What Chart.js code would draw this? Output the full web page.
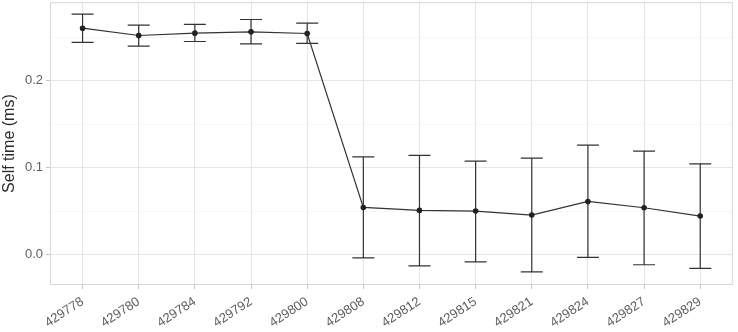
<!DOCTYPE html>
<html>
<head>
<meta charset="utf-8">
<script src="https://cdn.jsdelivr.net/npm/chart.js@4"></script>
<style>
  html, body { margin: 0; padding: 0; background: #fff; overflow: hidden; }
  #wrap { width: 738px; height: 335px; position: relative; top: -3px; }
</style>
</head>
<body>
<div id="wrap"><canvas id="selfTimeChart"></canvas></div>
<script>
const builds = ['429778', '429780', '429784', '429792', '429800', '429808',
                '429812', '429815', '429821', '429824', '429827', '429829'];
const selfTime = [0.2603, 0.2519, 0.2546, 0.2561, 0.2542, 0.0542,
                  0.0508, 0.0500, 0.0454, 0.0611, 0.0538, 0.0443];
const lowerBound = [0.2439, 0.2397, 0.2450, 0.2423, 0.2428, -0.0037,
                    -0.0129, -0.0083, -0.0198, -0.0032, -0.0117, -0.0159];
const upperBound = [0.2764, 0.2638, 0.2646, 0.2703, 0.2661, 0.1124,
                    0.1140, 0.1075, 0.1109, 0.1259, 0.1190, 0.1044];
const yTicks = [0, 0.05, 0.1, 0.15, 0.2, 0.25];

const isMajor = v => Math.abs(v * 10 - Math.round(v * 10)) < 1e-6;
const fontFamily = 'Liberation Sans, Arial, sans-serif';

// error bars + panel border, drawn from the chart scales
const errorBars = {
    id: 'errorBars',
    beforeDatasetsDraw(chart) {
        const { ctx, scales: { x, y } } = chart;
        ctx.save();
        ctx.strokeStyle = '#333';
        ctx.lineWidth = 1.2;
        selfTime.forEach((_, i) => {
            const px = x.getPixelForValue(i);
            const top = y.getPixelForValue(upperBound[i]);
            const bot = y.getPixelForValue(lowerBound[i]);
            ctx.beginPath();
            ctx.moveTo(px, top); ctx.lineTo(px, bot);
            ctx.moveTo(px - 11, top); ctx.lineTo(px + 11, top);
            ctx.moveTo(px - 11, bot); ctx.lineTo(px + 11, bot);
            ctx.stroke();
        });
        ctx.restore();
    },
    afterDraw(chart) {
        const { ctx, chartArea: a } = chart;
        ctx.save();
        ctx.strokeStyle = '#d6d6d6';
        ctx.lineWidth = 1;
        ctx.strokeRect(a.left + 0.5, a.top + 0.5, a.right - a.left - 1, a.bottom - a.top - 1);
        ctx.restore();
    }
};

const ctx = document.getElementById('selfTimeChart').getContext('2d');
new Chart(ctx, {
    type: 'line',
    data: {
        datasets: [{
            data: selfTime.map((v, i) => ({ x: i, y: v })),
            borderColor: '#333',
            borderWidth: 1.2,
            pointRadius: 2.2,
            pointBackgroundColor: '#222',
            pointBorderColor: '#222',
            tension: 0
        }]
    },
    options: {
        responsive: true,
        maintainAspectRatio: false,
        animation: false,
        layout: { padding: { left: 0, right: 4, top: 0, bottom: 0 } },
        plugins: { legend: { display: false }, tooltip: { enabled: false } },
        scales: {
            x: {
                type: 'linear',
                min: -0.58,
                max: builds.length - 1 + 0.58,
                afterBuildTicks: s => { s.ticks = builds.map((_, i) => ({ value: i })); },
                afterFit: s => { s.height = 47; s.paddingLeft = 0; s.paddingRight = 0; },
                ticks: {
                    autoSkip: false,
                    minRotation: 33,
                    maxRotation: 33,
                    padding: 5,
                    color: '#5e5e5e',
                    font: { family: fontFamily, size: 13 },
                    callback: v => builds[v] ?? ''
                },
                grid: { color: '#e6e6e6', lineWidth: 1, tickLength: 4, tickColor: '#c4c4c4' },
                border: { display: false }
            },
            y: {
                min: -0.035,
                max: 0.2902,
                afterBuildTicks: s => { s.ticks = yTicks.map(v => ({ value: v })); },
                afterFit: s => { s.width = 50; s.paddingTop = 0; s.paddingBottom = 0; },
                ticks: {
                    padding: 3,
                    color: '#5e5e5e',
                    font: { family: fontFamily, size: 13 },
                    callback: v => isMajor(v) ? v.toFixed(1) : ''
                },
                grid: {
                    color: c => isMajor(c.tick.value) ? '#e6e6e6' : '#f1f1f1',
                    lineWidth: c => isMajor(c.tick.value) ? 1 : 0.6,
                    tickLength: 4,
                    tickColor: c => isMajor(c.tick.value) ? '#c4c4c4' : 'rgba(0,0,0,0)'
                },
                border: { display: false },
                title: {
                    display: true,
                    text: 'Self time (ms)',
                    color: '#2a2a2a',
                    padding: 0,
                    font: { family: fontFamily, size: 16 }
                }
            }
        }
    },
    plugins: [errorBars]
});
</script>
</body>
</html>
